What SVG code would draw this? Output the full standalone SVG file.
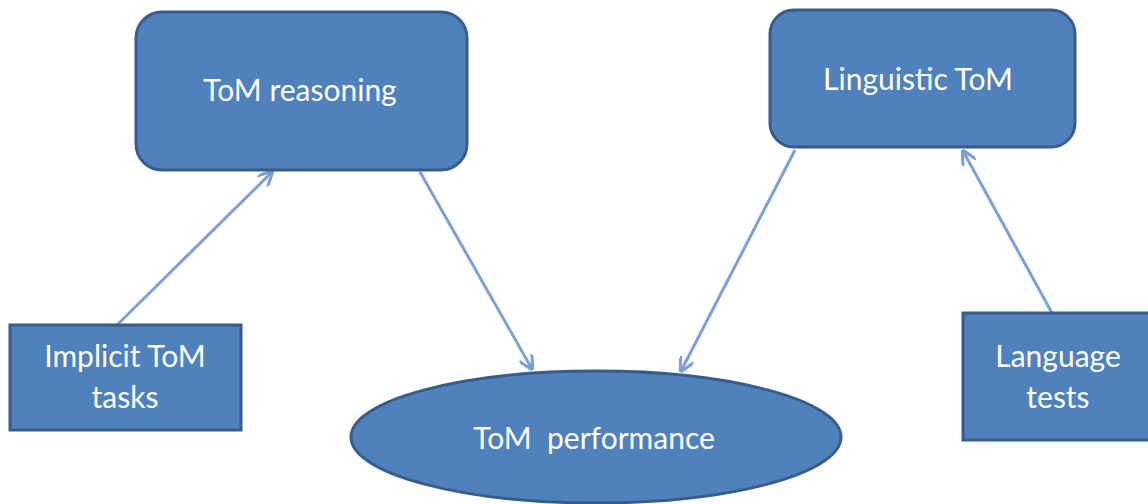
<svg xmlns="http://www.w3.org/2000/svg" width="1148" height="504" viewBox="0 0 1148 504">
<style>
.node{fill:#4F81BD;stroke:#385D8A;stroke-width:3}
.lbl{fill:#FFFFFF;font-family:Lato,"Open Sans",sans-serif;font-size:30px;text-anchor:middle;white-space:pre}
.conn{stroke:#7BA0D4;stroke-width:3;fill:none;marker-end:url(#arr)}
</style>
<defs>
<marker id="arr" viewBox="0 0 10 10" refX="9" refY="5" markerWidth="5" markerHeight="5" orient="auto" markerUnits="strokeWidth">
<path d="M0,0 L10,5 L0,10" fill="none" stroke="#7BA0D4" stroke-width="2"/>
</marker>
</defs>
<rect width="1148" height="504" fill="#FFFFFF"/>
<g id="connectors">
<line class="conn" x1="117" y1="325" x2="272" y2="172"/>
<line class="conn" x1="420" y1="172" x2="532" y2="369"/>
<line class="conn" x1="795" y1="150" x2="681" y2="371"/>
<line class="conn" x1="1052" y1="313" x2="963" y2="151"/>
</g>
<g id="tom-reasoning">
<rect class="node" x="136" y="12" width="331" height="158" rx="26"/>
<text class="lbl" x="300" y="101">ToM reasoning</text>
</g>
<g id="linguistic-tom">
<rect class="node" x="770" y="10" width="305" height="137" rx="24"/>
<text class="lbl" x="918" y="90">Linguistic ToM</text>
</g>
<g id="implicit-tom-tasks">
<rect class="node" x="10" y="325" width="231" height="105"/>
<text class="lbl" x="125" y="367">Implicit ToM</text>
<text class="lbl" x="125" y="408">tasks</text>
</g>
<g id="language-tests">
<rect class="node" x="963" y="313" width="190" height="127"/>
<text class="lbl" x="1058" y="367">Language</text>
<text class="lbl" x="1058" y="408">tests</text>
</g>
<g id="tom-performance">
<ellipse class="node" cx="596" cy="437" rx="245" ry="66"/>
<text class="lbl" x="594" y="449" xml:space="preserve">ToM  performance</text>
</g>
</svg>
